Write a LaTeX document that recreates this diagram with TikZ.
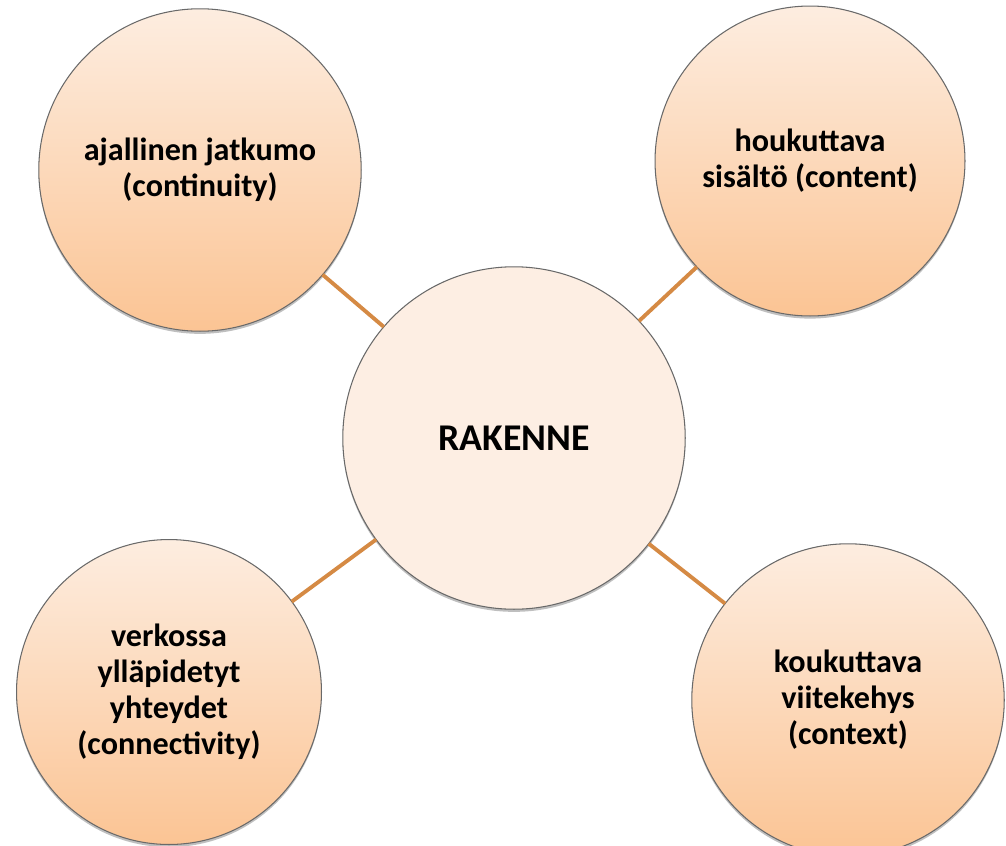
\documentclass[tikz,border=0pt]{standalone}
\usepackage{fontspec}
\setmainfont{Carlito}
\usetikzlibrary{shadows}
\definecolor{peachtop}{RGB}{253,237,224}
\definecolor{peachbot}{RGB}{251,196,148}
\definecolor{peachmid}{RGB}{253,238,227}
\definecolor{linkcol}{RGB}{213,138,68}
\definecolor{rimcol}{RGB}{105,105,105}
\tikzset{
  bubble/.style={circle, draw=rimcol, line width=0.6pt, inner sep=0pt, outer sep=0pt,
    top color=peachtop, bottom color=peachbot, align=center,
    font=\fontsize{18.3}{20.5}\selectfont\bfseries,
    drop shadow={shadow xshift=0pt, shadow yshift=-1.5pt, opacity=0.25, fill=black}},
  hub/.style={bubble, top color=peachmid, bottom color=peachmid,
    font=\fontsize{21.5}{24}\selectfont\bfseries},
  link/.style={draw=linkcol, line width=2.2pt}
}
\begin{document}
\begin{tikzpicture}[x=0.02cm, y=-0.02cm]
  \useasboundingbox (0,0) rectangle (1006,845);
  \node[bubble, minimum size=6.45cm] (cont) at (200,170) {ajallinen jatkumo\\(continuity)};
  \node[bubble, minimum size=6.2cm] (sis) at (810,161) {houkuttava\\sisältö (content)};
  \node[bubble, minimum size=6.1cm] (verk) at (169,692) {verkossa\\ylläpidetyt\\yhteydet\\(connectivity)};
  \node[bubble, minimum size=6.25cm] (viite) at (848,700) {koukuttava\\viitekehys\\(context)};
  \node[hub, minimum size=6.85cm] (rak) at (514,438) {RAKENNE};
  % spokes
  \draw[link] (cont) -- (rak);
  \draw[link] (sis) -- (rak);
  \draw[link] (verk) -- (rak);
  \draw[link] (viite) -- (rak);
\end{tikzpicture}
\end{document}
